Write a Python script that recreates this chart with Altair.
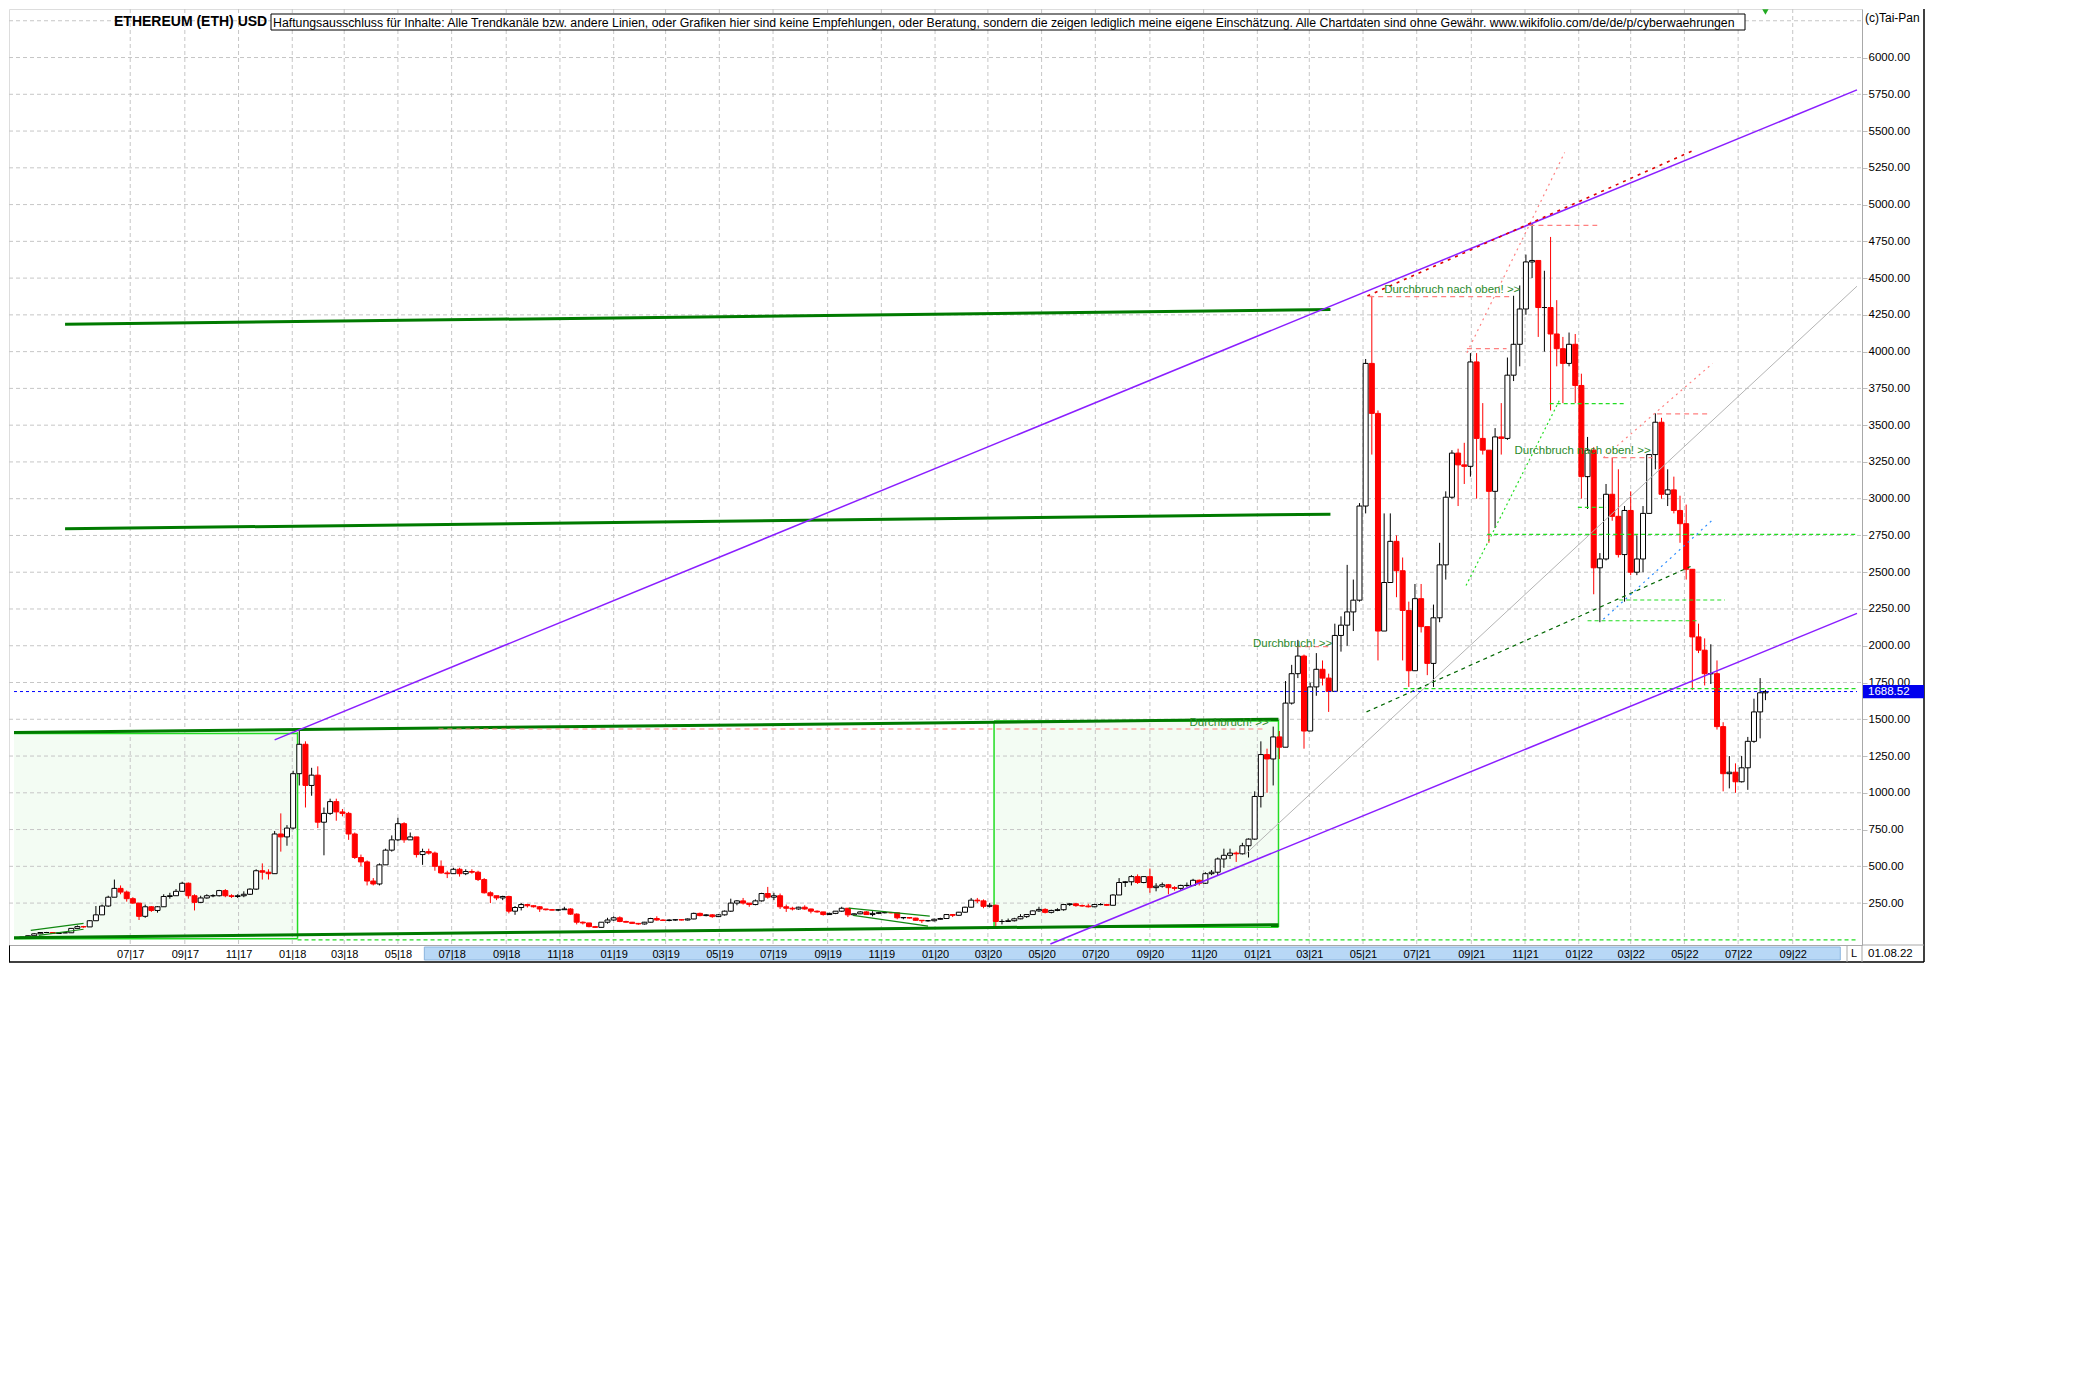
import altair as alt
import pandas as pd

# ---------------- texts ----------------
TITLE = "ETHEREUM (ETH) USD"
DISCLAIMER = ("Haftungsausschluss für Inhalte: Alle Trendkanäle bzw. andere Linien, oder Grafiken hier sind keine "
              "Empfehlungen, oder Beratung, sondern die zeigen lediglich meine eigene Einschätzung. Alle Chartdaten "
              "sind ohne Gewähr.  www.wikifolio.com/de/de/p/cyberwaehrungen")
COPYRIGHT = "(c)Tai-Pan"
LAST_DATE_LABEL = "01.08.22"
LAST_PRICE = 1688.52

# ---------------- weekly candles: (close, high, low) ----------------
FIRST_OPEN = 15.5
W2017 = [(19, 19.5, 15), (28, 30, 18.5), (41, 46, 27), (50, 53, 39), (50, 54, 47), (43, 52, 41), (48, 50, 42),
         (48, 50, 46), (78, 80, 48), (90, 98, 76), (88, 95, 82), (130, 135, 88), (170, 230, 130), (230, 240, 170),
         (290, 300, 225), (350, 410, 290), (325, 370, 310), (280, 335, 260), (250, 290, 245), (160, 250, 135),
         (225, 240, 150), (200, 230, 190), (225, 230, 185), (295, 310, 225), (300, 320, 280), (330, 345, 300),
         (385, 395, 330), (300, 390, 280), (255, 310, 200), (285, 300, 250), (300, 310, 280), (300, 310, 290),
         (335, 340, 295), (300, 345, 290), (295, 310, 285), (300, 310, 285), (310, 330, 290), (345, 350, 305),
         (470, 480, 340), (460, 520, 410), (450, 480, 410), (720, 740, 450), (700, 860, 600), (760, 780, 640)]
W2018 = [(1130, 1150, 750), (1330, 1430, 1050), (1050, 1350, 900), (1120, 1170, 980), (800, 1180, 760),
         (860, 900, 575), (940, 960, 850), (870, 960, 810), (860, 890, 840), (720, 870, 680), (560, 730, 550),
         (530, 580, 500), (400, 540, 370), (380, 420, 370), (510, 520, 370), (610, 620, 510), (680, 710, 600),
         (790, 830, 670), (680, 800, 660), (700, 730, 680), (580, 700, 560), (600, 620, 510), (590, 620, 580),
         (500, 600, 470), (455, 540, 450), (450, 470, 420), (480, 490, 450), (450, 490, 430), (465, 480, 440),
         (460, 480, 450), (410, 470, 400), (320, 420, 315), (300, 330, 250), (285, 300, 270), (295, 300, 270),
         (195, 300, 180), (220, 230, 170), (240, 250, 200), (232, 245, 220), (225, 235, 220), (210, 230, 190),
         (205, 210, 200), (202, 210, 200), (205, 210, 195), (210, 225, 205), (175, 215, 170), (120, 180, 105),
         (115, 125, 105), (90, 115, 85), (85, 95, 82), (120, 120, 85), (135, 150, 110), (150, 160, 130)]
W2019 = [(125, 160, 120), (120, 130, 118), (112, 122, 110), (108, 115, 102), (120, 122, 104), (145, 150, 118),
         (135, 160, 130), (132, 140, 128), (135, 140, 126), (137, 140, 130), (135, 140, 132), (142, 145, 132),
         (180, 185, 140), (165, 185, 160), (170, 175, 160), (158, 175, 150), (170, 175, 155), (195, 200, 165),
         (250, 280, 190), (265, 270, 235), (250, 285, 240), (240, 250, 225), (265, 275, 235), (315, 320, 260),
         (290, 360, 280), (300, 320, 270), (225, 315, 210), (215, 240, 190), (210, 225, 200), (222, 225, 205),
         (210, 235, 205), (195, 212, 180), (190, 200, 185), (172, 190, 165), (180, 185, 170), (195, 195, 175),
         (215, 225, 190), (170, 215, 155), (177, 180, 165), (190, 195, 175), (172, 195, 170), (180, 195, 160),
         (185, 190, 175), (185, 195, 180), (184, 190, 180), (150, 185, 140), (152, 155, 140), (148, 155, 145),
         (133, 150, 130), (130, 135, 115), (130, 135, 124), (140, 145, 125)]
W2020 = [(145, 150, 138), (172, 175, 143), (167, 175, 155), (188, 190, 165), (222, 225, 185), (270, 285, 220),
         (265, 285, 250), (228, 275, 215), (235, 250, 220), (125, 240, 90), (125, 140, 105), (130, 145, 125),
         (143, 150, 125), (158, 175, 140), (172, 175, 150), (197, 200, 170), (207, 225, 190), (187, 215, 180),
         (200, 205, 180), (205, 215, 195), (240, 245, 198), (245, 250, 230), (233, 250, 225), (230, 240, 225),
         (225, 245, 220), (240, 245, 222), (240, 250, 235), (235, 245, 230), (305, 310, 235), (390, 420, 305),
         (395, 400, 360), (430, 440, 370), (390, 445, 380), (430, 430, 385), (355, 485, 320), (365, 385, 330),
         (375, 390, 355), (355, 380, 310), (350, 365, 335), (370, 375, 340), (370, 390, 360), (405, 415, 365),
         (385, 410, 370), (450, 460, 380), (460, 475, 440), (550, 560, 440), (575, 620, 490), (590, 620, 550),
         (585, 600, 530), (640, 660, 580), (685, 690, 560), (975, 1010, 680)]
W2021 = [(1260, 1350, 900), (1230, 1300, 1000), (1380, 1450, 1050), (1310, 1420, 1230), (1610, 1760, 1310),
         (1810, 1870, 1600), (1930, 2040, 1780), (1420, 1940, 1300), (1720, 1750, 1420), (1840, 1950, 1660),
         (1780, 1900, 1730), (1690, 1810, 1550), (2070, 2150, 1690), (2140, 2200, 1960), (2230, 2550, 2000),
         (2310, 2450, 2100), (2950, 2970, 2300), (3920, 3950, 2900), (3580, 4380, 3300), (2100, 3600, 1900),
         (2430, 2900, 2100), (2710, 2900, 2430), (2510, 2750, 2330), (2240, 2600, 1900), (1830, 2300, 1720),
         (2320, 2420, 1830), (2130, 2420, 2090), (1880, 2130, 1800), (2190, 2280, 1720), (2550, 2700, 2160),
         (3010, 3050, 2450), (3310, 3330, 3000), (3230, 3340, 2950), (3220, 3380, 3100), (3930, 3990, 3150),
         (3410, 3990, 3000), (3330, 3650, 3300), (3050, 3150, 2700), (3420, 3480, 2800), (3410, 3650, 3300),
         (3840, 3960, 3400), (4050, 4380, 3800), (4290, 4450, 3900), (4610, 4660, 4250), (4620, 4870, 4500),
         (4300, 4620, 4100), (4300, 4550, 4000), (4120, 4780, 3600), (4020, 4350, 3900), (3920, 4100, 3650),
         (4050, 4130, 3900), (3770, 4120, 3650)]
W2022 = [(3150, 3850, 3000), (3330, 3420, 2930), (2530, 3350, 2350), (2590, 2630, 2160), (3030, 3100, 2580),
         (2880, 3280, 2850), (2620, 3200, 2600), (2920, 2950, 2300), (2500, 3050, 2480), (2590, 2750, 2480),
         (2900, 2950, 2500), (3300, 3300, 2900), (3520, 3580, 3200), (3030, 3550, 3000), (3060, 3200, 2950),
         (2920, 3150, 2900), (2830, 3020, 2700), (2520, 2960, 2450), (2060, 2520, 1700), (1970, 2150, 1950),
         (1810, 2050, 1730), (1810, 2010, 1740), (1450, 1900, 1430), (1130, 1480, 1010), (1140, 1250, 1030),
         (1075, 1200, 1000), (1170, 1250, 1070), (1350, 1380, 1020), (1550, 1640, 1340), (1680, 1780, 1370)]
YEAR_WEEKS = [W2017, W2018, W2019, W2020, W2021, W2022]
YEAR_STARTS = ["2017-02-27", "2018-01-01", "2019-01-07", "2020-01-06", "2021-01-04", "2022-01-03"]
LAST_DAY = ("2022-08-01", 1700, 1630, LAST_PRICE)  # date, high, low, close

# ---------------- axes ----------------
X_DOMAIN = ["2017-02-19", "2022-11-13"]
X_TICKS = ["2017-07-01", "2017-09-01", "2017-11-01", "2018-01-01", "2018-03-01", "2018-05-01", "2018-07-01",
           "2018-09-01", "2018-11-01", "2019-01-01", "2019-03-01", "2019-05-01", "2019-07-01", "2019-09-01",
           "2019-11-01", "2020-01-01", "2020-03-01", "2020-05-01", "2020-07-01", "2020-09-01", "2020-11-01",
           "2021-01-01", "2021-03-01", "2021-05-01", "2021-07-01", "2021-09-01", "2021-11-01", "2022-01-01",
           "2022-03-01", "2022-05-01", "2022-07-01", "2022-09-01"]
Y_TICKS = [250, 500, 750, 1000, 1250, 1500, 1750, 2000, 2250, 2500, 2750, 3000, 3250, 3500, 3750, 4000,
           4250, 4500, 4750, 5000, 5250, 5500, 5750, 6000]
Y_GRID = Y_TICKS + [6250]
Y_DOMAIN = [-35, 6330]
SCROLL_BAND = ("2018-05-31", "2022-10-25")

# ---------------- drawn lines: (date1, value1, date2, value2) ----------------
PURPLE = [("2017-12-12", 1360, "2022-11-13", 5780), ("2020-05-11", -28, "2022-11-13", 2220)]
GREEN_THICK = [("2017-04-18", 4186, "2021-03-25", 4286), ("2017-04-18", 2795, "2021-03-25", 2895),
               ("2017-02-19", 1410, "2021-01-25", 1500), ("2017-02-19", 15, "2021-01-25", 103)]
GREEN_SMALL = [("2017-03-10", 65, "2017-05-09", 112), ("2017-03-19", 31, "2017-05-09", 72),
               ("2019-09-25", 216, "2019-12-26", 161), ("2019-09-30", 166, "2019-12-24", 93)]
BOXES = [("2017-02-19", 8, "2018-01-07", 1412), ("2020-03-08", 86, "2021-01-25", 1495)]
BOX_EDGES = [("2018-01-07", 8, "2018-01-07", 1412), ("2017-02-19", 1404, "2018-01-07", 1404),
             ("2017-02-19", 8, "2018-01-07", 8),
             ("2020-03-08", 86, "2020-03-08", 1489), ("2021-01-25", 86, "2021-01-25", 1495),
             ("2020-03-08", 1489, "2021-01-25", 1489), ("2020-03-08", 86, "2021-01-25", 86)]
GREEN_DASHED = [("2018-01-07", 0, "2022-11-13", 0), ("2021-06-16", 1708, "2022-11-13", 1708),
                ("2021-09-19", 2758, "2022-11-13", 2758), ("2021-11-29", 3646, "2022-02-21", 3646),
                ("2021-12-31", 2941, "2022-02-01", 2941), ("2022-02-16", 2311, "2022-06-16", 2311),
                ("2022-01-11", 2170, "2022-05-17", 2170)]
GREEN_DOTTED = [("2021-08-26", 2409, "2021-12-10", 3668)]
DARKGREEN_DASHED = [("2021-05-05", 1550, "2022-05-08", 2539)]
BLUE_DOTTED = [("2022-01-29", 2180, "2022-06-02", 2856)]
GRAY_LINE = [("2020-12-18", 580, "2022-11-13", 4445)]
PINK_DASHED = [("2018-06-16", 1434, "2021-01-09", 1434), ("2021-02-14", 1994, "2021-03-26", 1994),
               ("2021-05-08", 4374, "2021-10-16", 4374), ("2021-08-27", 4020, "2021-10-11", 4020),
               ("2021-11-06", 4859, "2022-01-22", 4859), ("2022-01-29", 3279, "2022-03-26", 3279),
               ("2022-03-31", 3577, "2022-05-31", 3577)]
PINK_DOTTED = [("2021-08-27", 3993, "2021-12-16", 5354), ("2022-01-29", 3279, "2022-06-02", 3920)]
RED_DASHED = [("2021-05-06", 4378, "2022-05-10", 5365)]
PRICE_LINE = [("2017-02-19", LAST_PRICE, "2022-11-13", LAST_PRICE)]

ANNOTATIONS = [("Durchbruch nach oben! >>", "2021-05-25", 4417), ("Durchbruch nach oben! >>", "2021-10-20", 3322),
               ("Durchbruch! >>", "2020-12-27", 2012), ("Durchbruch! >>", "2020-10-16", 1473)]

# ---------------- build ----------------
W, H = 1853, 936
FONT = "Liberation Sans"


def ms(s):
    return int(pd.Timestamp(s, tz="UTC").value // 10**6)


rows = []
prev = FIRST_OPEN
for start, weeks in zip(YEAR_STARTS, YEAR_WEEKS):
    dates = pd.date_range(start, periods=len(weeks), freq="7D")
    for d, (c, h, l) in zip(dates, weeks):
        mid = d + pd.Timedelta(days=1)
        rows.append({"date": mid.strftime("%Y-%m-%d"), "open": prev, "close": c,
                     "high": max(h, prev, c), "low": min(l, prev, c), "up": bool(c >= prev)})
        prev = c
d, h, l, c = LAST_DAY
rows.append({"date": d, "open": prev, "close": c, "high": max(h, prev, c), "low": min(l, prev, c), "up": bool(c >= prev)})
candles = pd.DataFrame(rows)

XS = alt.Scale(type="utc", domain=[ms(X_DOMAIN[0]), ms(X_DOMAIN[1])])
XAX = alt.Axis(values=[ms(t) for t in X_TICKS],
               labelExpr="utcFormat(datum.value, '%m') + '|' + utcFormat(datum.value, '%y')",
               grid=False, ticks=False, domain=True, domainColor="#a8a8a8", labelFont=FONT, labelFontSize=11,
               labelColor="#000000", labelPadding=3, title=None, zindex=1, labelOverlap=False, labelFlush=False)
YS = alt.Scale(domain=Y_DOMAIN, nice=False, zero=False)
YAX = alt.Axis(orient="right", values=Y_TICKS, format=".2f", grid=False, domainColor="#a8a8a8",
               tickColor="#bdbdbd", tickSize=5, labelPadding=1, labelFont=FONT, labelFontSize=11.5,
               labelColor="#000000", title=None, zindex=0, labelOverlap=False, labelFlush=False)


def X(f):
    return alt.X(f, type="temporal", scale=XS, axis=XAX)


def Y(f):
    return alt.Y(f, type="quantitative", scale=YS, axis=YAX)


def seg(rows_, color, width, dash=None, opacity=1.0):
    mk = dict(color=color, strokeWidth=width, clip=True, opacity=opacity)
    if dash:
        mk["strokeDash"] = dash
    df = pd.DataFrame(rows_, columns=["d1", "v1", "d2", "v2"])
    return alt.Chart(df).mark_rule(**mk).encode(x=X("d1"), y=Y("v1"), x2="d2", y2="v2")


one = pd.DataFrame({"k": [0]})

boxes = alt.Chart(pd.DataFrame(BOXES, columns=["d1", "v1", "d2", "v2"])).mark_rect(
    fill="#f3fcf3", clip=True).encode(x=X("d1"), x2="d2", y=Y("v1"), y2="v2")

vgrid = alt.Chart(pd.DataFrame({"d": X_TICKS})).mark_rule(
    color="#c6c6c6", strokeDash=[4, 3], strokeWidth=1).encode(x=X("d"), y=alt.value(0), y2=alt.value(H))
hgrid = alt.Chart(pd.DataFrame({"v": Y_GRID})).mark_rule(
    color="#c6c6c6", strokeDash=[4, 3], strokeWidth=1).encode(y=Y("v"), x=alt.value(0), x2=alt.value(W))

wick = alt.Chart(candles).mark_rule(strokeWidth=1, clip=True).encode(
    x=X("date"), y=Y("low"), y2="high",
    color=alt.condition("datum.up", alt.value("#000000"), alt.value("#ff0000")))
body = alt.Chart(candles).mark_bar(size=5, strokeWidth=1, clip=True).encode(
    x=X("date"), y=Y("open"), y2="close",
    fill=alt.condition("datum.up", alt.value("#ffffff"), alt.value("#ff0000")),
    stroke=alt.condition("datum.up", alt.value("#000000"), alt.value("#ff0000")))

ann = alt.Chart(pd.DataFrame(ANNOTATIONS, columns=["t", "d", "v"])).mark_text(
    align="left", baseline="middle", fontSize=11.5, font=FONT, color="#2a8a2a").encode(
    x=X("d"), y=Y("v"), text="t:N")

# decorations around the plot
title = alt.Chart(pd.DataFrame({"t": [TITLE]})).mark_text(
    align="left", baseline="middle", fontSize=14, fontWeight="bold", font=FONT, color="#000").encode(
    x=alt.value(105), y=alt.value(13), text="t:N")
disc_box = alt.Chart(one).mark_rect(fill="#ffffff", stroke="#000000", strokeWidth=1).encode(
    x=alt.value(262), x2=alt.value(1736), y=alt.value(5), y2=alt.value(21))
disc = alt.Chart(pd.DataFrame({"t": [DISCLAIMER]})).mark_text(
    align="left", baseline="middle", fontSize=12.3, font=FONT, color="#000").encode(
    x=alt.value(264), y=alt.value(13.5), text="t:N")
copy_txt = alt.Chart(pd.DataFrame({"t": [COPYRIGHT]})).mark_text(
    align="left", baseline="middle", fontSize=12, font=FONT, color="#000").encode(
    x=alt.value(1856), y=alt.value(9), text="t:N")
band = alt.Chart(pd.DataFrame({"d1": [SCROLL_BAND[0]], "d2": [SCROLL_BAND[1]]})).mark_rect(
    fill="#b8d8f6", stroke="#8ab4de", strokeWidth=1).encode(x=X("d1"), x2="d2", y=alt.value(H + 2), y2=alt.value(H + 15))
frame_b = alt.Chart(one).mark_rule(color="#000", strokeWidth=1.5).encode(
    x=alt.value(0), x2=alt.value(1915), y=alt.value(H + 17))
frame_r = alt.Chart(one).mark_rule(color="#000", strokeWidth=1.5).encode(
    x=alt.value(1915), y=alt.value(0), y2=alt.value(H + 17))
frame_l = alt.Chart(one).mark_rule(color="#000", strokeWidth=1).encode(
    x=alt.value(0.5), y=alt.value(H), y2=alt.value(H + 17))
axis_ext = alt.Chart(one).mark_rule(color="#a8a8a8", strokeWidth=1).encode(
    x=alt.value(W), y=alt.value(H), y2=alt.value(H + 17))
axis_top = alt.Chart(one).mark_rule(color="#a8a8a8", strokeWidth=1).encode(
    x=alt.value(W), x2=alt.value(1915), y=alt.value(H))
l_sep = alt.Chart(one).mark_rule(color="#a8a8a8", strokeWidth=1).encode(
    x=alt.value(1838), y=alt.value(H), y2=alt.value(H + 17))
l_txt = alt.Chart(pd.DataFrame({"t": ["L"]})).mark_text(
    align="center", baseline="middle", fontSize=11, font=FONT, color="#000").encode(
    x=alt.value(1845), y=alt.value(H + 9), text="t:N")
date_txt = alt.Chart(pd.DataFrame({"t": [LAST_DATE_LABEL]})).mark_text(
    align="left", baseline="middle", fontSize=11.5, font=FONT, color="#000").encode(
    x=alt.value(1859), y=alt.value(H + 9), text="t:N")
tag = alt.Chart(one).mark_rect(fill="#0000ee").encode(
    x=alt.value(W + 1), x2=alt.value(1915),
    y=alt.Y(datum=LAST_PRICE + 45, scale=YS, axis=YAX), y2=alt.Y2(datum=LAST_PRICE - 45))
tag_txt = alt.Chart(pd.DataFrame({"t": [f"{LAST_PRICE:.2f}"]})).mark_text(
    align="left", baseline="middle", fontSize=11.5, font=FONT, color="#ffffff").encode(
    x=alt.value(1859), y=alt.Y(datum=LAST_PRICE, scale=YS, axis=YAX), text="t:N")
marker = alt.Chart(pd.DataFrame({"d": [LAST_DAY[0]]})).mark_point(
    shape="triangle-down", size=40, filled=True, color="#22aa22", opacity=1).encode(x=X("d"), y=alt.value(3))

chart = alt.layer(
    boxes, vgrid, hgrid,
    seg(BOX_EDGES, "#22dd22", 1.5),
    wick, body,
    seg(GRAY_LINE, "#b4b4b4", 1),
    seg(GREEN_THICK, "#007a00", 3),
    seg(GREEN_SMALL, "#118811", 1.2),
    seg(GREEN_DASHED, "#22dd22", 1.2, [4, 3]),
    seg(GREEN_DOTTED, "#22dd22", 1.2, [2, 3]),
    seg(DARKGREEN_DASHED, "#006600", 1.2, [4, 4]),
    seg(BLUE_DOTTED, "#2a8cff", 1.2, [2, 4]),
    seg(PINK_DASHED, "#ff8080", 1.2, [5, 4]),
    seg(PINK_DOTTED, "#ff8080", 1.2, [2, 4]),
    seg(PURPLE, "#8a1eff", 1.5),
    seg(RED_DASHED, "#e00000", 1.6, [3, 5]),
    seg(PRICE_LINE, "#0000ff", 1, [3, 3]),
    ann,
    band, frame_b, frame_r, frame_l, axis_ext, axis_top, l_sep, l_txt, date_txt,
    title, disc_box, disc, copy_txt, tag, tag_txt, marker,
).properties(
    width=W, height=H, padding={"left": 0, "top": 0, "right": 2, "bottom": 2}
).configure_view(stroke=None).configure(font=FONT)

chart.save("out.html", embed_options={"renderer": "svg", "actions": False})
